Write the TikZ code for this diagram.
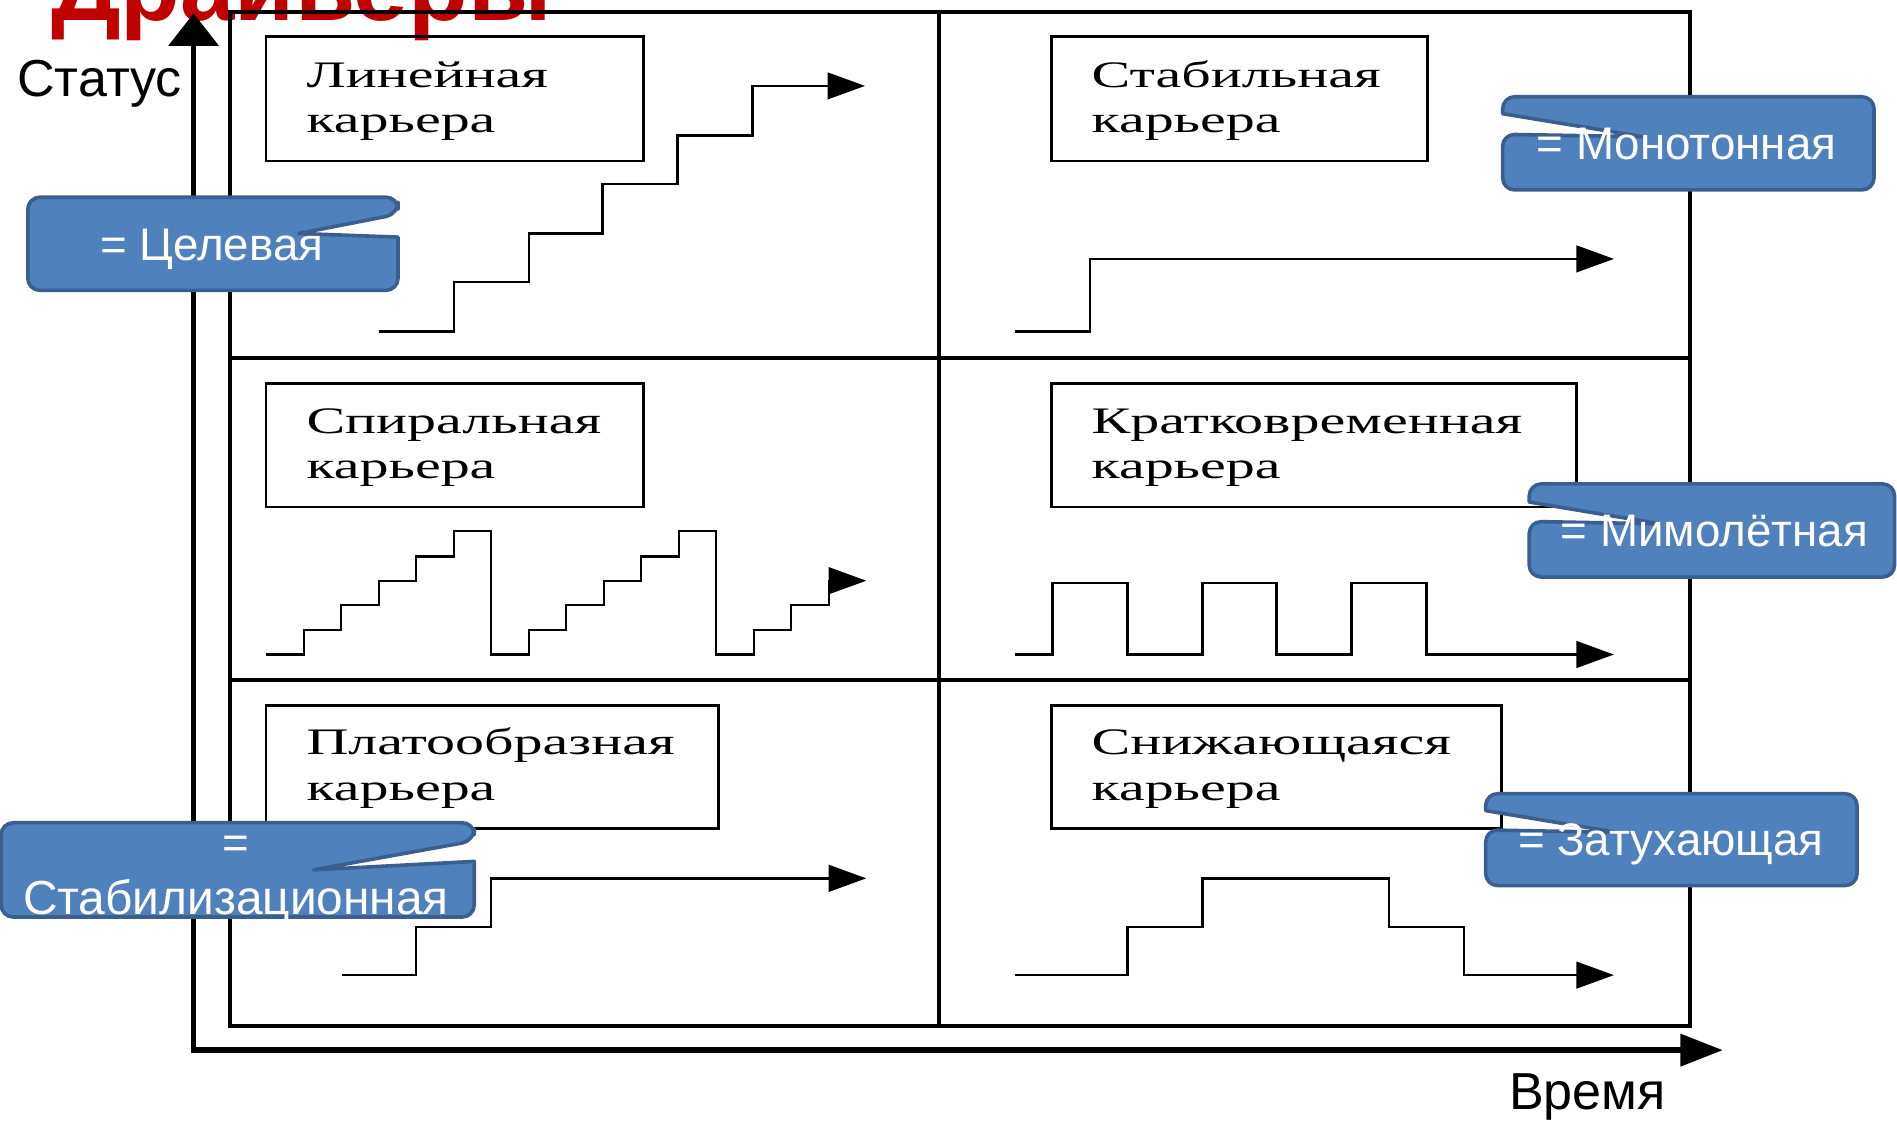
\documentclass[tikz,border=0pt]{standalone}
\usepackage{fontspec}
\setmainfont{Liberation Sans}
\newfontfamily\timesf{Liberation Serif}
\usepackage{graphicx}
\usetikzlibrary{arrows.meta}
\definecolor{calfill}{HTML}{4F81BD}
\definecolor{calline}{HTML}{3A5F8E}
\definecolor{titlered}{HTML}{C00000}
\newcommand\cartext[2]{\scalebox{1.55}[1]{\timesf\fontsize{17.6}{21.3}\selectfont\begin{tabular}[t]{@{}l@{}}#1\\#2\end{tabular}}}
\begin{document}
\begin{tikzpicture}[x=0.02cm,y=-0.02cm,
  gridline/.style={line width=2.1pt},
  axisline/.style={line width=2.6pt},
  labbox/.style={line width=1.2pt},
  curve/.style={line width=1.1pt,-{Triangle[length=0.62cm,width=0.44cm]}},
  callout/.style={fill=calfill,draw=calline,line width=1.7pt,line join=round},
  caltext/.style={text=white,font=\fontsize{21.5}{26}\selectfont,inner sep=0pt},
  cartxt/.style={inner sep=0pt,anchor=base west},
  axtext/.style={inner sep=0pt,anchor=base west,font=\fontsize{24.5}{29}\selectfont}]
\useasboundingbox (0,0) rectangle (1568,926);
\clip (0,0) rectangle (1568,926);
\fill[white] (0,0) rectangle (1568,926);

% title (cut off at top, as in the reference)
\node[inner sep=0pt,anchor=base west,text=titlered,font=\fontsize{46}{50}\selectfont\bfseries] (title) at (42,17) {Драйверы};

% grid
\draw[gridline] (190,10) rectangle (1397,848);
\draw[gridline] (776,10) -- (776,848);
\draw[gridline] (190,296) -- (1397,296);
\draw[gridline] (190,562) -- (1397,562);

% label boxes
\draw[labbox] (220,30) rectangle (532,133);
\draw[labbox] (869,30) rectangle (1180,133);
\draw[labbox] (220,317) rectangle (532,419);
\draw[labbox] (869,317) rectangle (1303,419);
\draw[labbox] (220,583) rectangle (594,685);
\draw[labbox] (869,583) rectangle (1241,685);

\node[cartxt] (t1) at (253,72) {\cartext{Линейная}{карьера}};
\node[cartxt] (t2) at (902,72) {\cartext{Стабильная}{карьера}};
\node[cartxt] (t3) at (253,358) {\cartext{Спиральная}{карьера}};
\node[cartxt] (t4) at (902,358) {\cartext{Кратковременная}{карьера}};
\node[cartxt] (t5) at (253,624) {\cartext{Платообразная}{карьера}};
\node[cartxt] (t6) at (902,624) {\cartext{Снижающаяся}{карьера}};

% career curves
\draw[curve] (313,274) -- (375,274) -- (375,233) -- (437,233) -- (437,193) -- (498,193) -- (498,152) -- (560,152) -- (560,112) -- (622,112) -- (622,71) -- (715,71);
\draw[curve] (839,274) -- (901,274) -- (901,214) -- (1334,214);
\draw[curve] (220,541) -- (251,541) -- (251,521) -- (282,521) -- (282,500) -- (313,500) -- (313,480) -- (344,480) -- (344,460) -- (375,460) -- (375,439) -- (406,439) -- (406,541) -- (437,541) -- (437,521) -- (468,521) -- (468,500) -- (499,500) -- (499,480) -- (530,480) -- (530,460) -- (561,460) -- (561,439) -- (592,439) -- (592,541) -- (623,541) -- (623,521) -- (654,521) -- (654,500) -- (685,500) -- (685,480) -- (716,480);
\draw[curve] (839,541) -- (870,541) -- (870,482) -- (932,482) -- (932,541) -- (994,541) -- (994,482) -- (1055,482) -- (1055,541) -- (1117,541) -- (1117,482) -- (1179,482) -- (1179,541) -- (1334,541);
\draw[curve] (283,806) -- (344,806) -- (344,766) -- (406,766) -- (406,726) -- (716,726);
\draw[curve] (839,806) -- (932,806) -- (932,766) -- (994,766) -- (994,726) -- (1148,726) -- (1148,766) -- (1210,766) -- (1210,806) -- (1334,806);

% axes
\coordinate (origin) at (160,868);
\coordinate (ytip) at (160,11);
\coordinate (xtip) at (1424,868);
\draw[axisline,-{Triangle[length=0.54cm,width=0.82cm]}] ([yshift=-1.3pt]origin) -- (ytip);
\draw[axisline,-{Triangle[length=0.70cm,width=0.52cm]}] ([xshift=-1.3pt]origin) -- (xtip);
\node[axtext] (status) at (14,80) {Статус};
\node[axtext] (time) at (1247,917) {Время};

% callouts
\path[callout] (23,200) [rounded corners=0.2cm] -- (23,163) -- (329,163) -- (329,177) [sharp corners] -- (247,193) -- (329,196) [rounded corners=0.2cm] -- (329,240) -- (23,240) -- cycle;
\node[caltext,anchor=base] (c1) at (175,215) {= Целевая};

\path[callout] (1549,120) [rounded corners=0.2cm] -- (1549,157) -- (1242,157) -- (1242,111) [sharp corners] -- (1358,113) -- (1242,94) [rounded corners=0.2cm] -- (1242,80) -- (1549,80) -- cycle;
\node[caltext,anchor=base] (c2) at (1394,132) {= Монотонная};

\path[callout] (1566,440) [rounded corners=0.2cm] -- (1566,477) -- (1264,477) -- (1264,431) [sharp corners] -- (1372,433) -- (1264,415) [rounded corners=0.2cm] -- (1264,400) -- (1566,400) -- cycle;
\node[caltext,anchor=base] (c3) at (1417,452) {= Мимолётная};

\path[callout] (1535,700) [rounded corners=0.2cm] -- (1535,732) -- (1228,732) -- (1228,686) [sharp corners] -- (1336,688) -- (1228,670) [rounded corners=0.2cm] -- (1228,656) -- (1535,656) -- cycle;
\node[caltext,anchor=base] (c4) at (1381,707) {= Затухающая};

\path[callout] (1,720) [rounded corners=0.2cm] -- (1,680) -- (392,680) -- (392,695) [sharp corners] -- (259,719) -- (392,712) [rounded corners=0.2cm] -- (392,758) -- (1,758) -- cycle;
\node[caltext,anchor=base] (c5a) at (195,710) {=};
\node[caltext,anchor=base,font=\fontsize{22.5}{26}\selectfont] (c5b) at (195,756) {Стабилизационная};
\end{tikzpicture}
\end{document}
